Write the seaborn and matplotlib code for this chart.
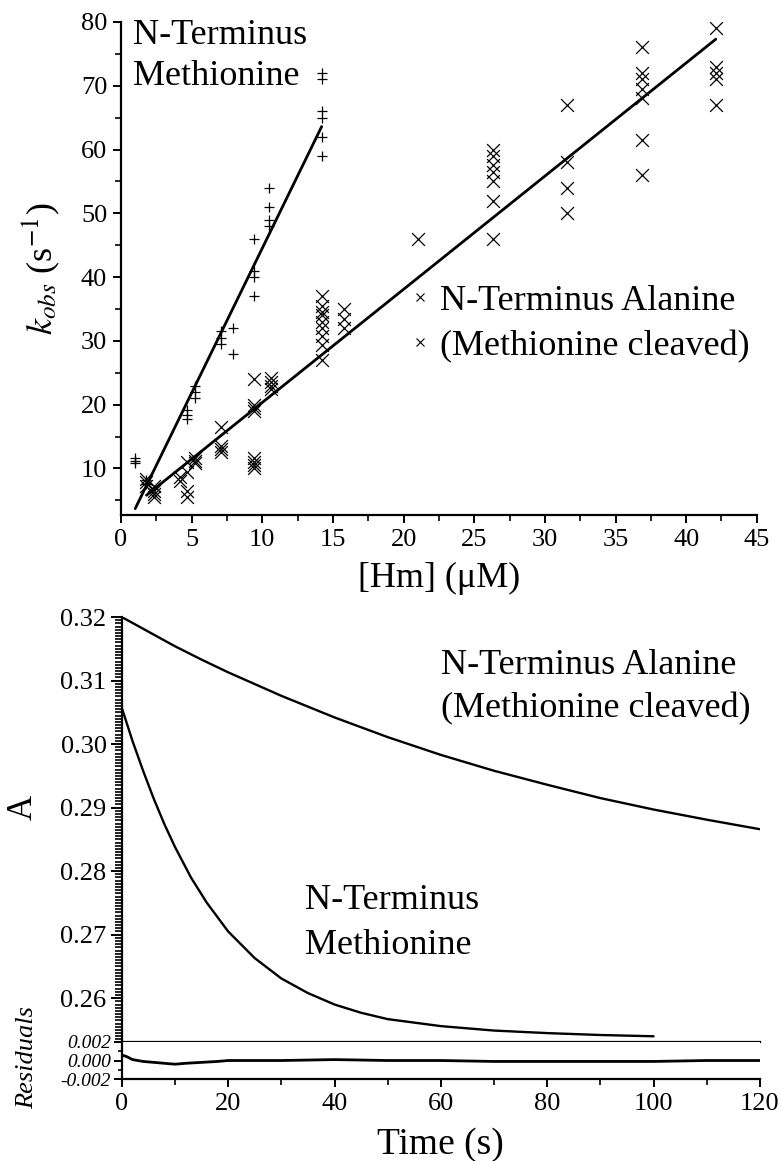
import matplotlib
matplotlib.use("Agg")
import matplotlib.pyplot as plt
from matplotlib.lines import Line2D
from matplotlib.ticker import MultipleLocator
import pandas as pd
import seaborn as sns

# ---- top panel: k_obs vs [Hm] ----
# N-terminus methionine (+ markers), grouped by [Hm]
met_hm_levels = [1.0, 1.8, 4.7, 5.2, 7.1, 7.9, 9.4, 10.5, 14.2]
met_kobs_groups = [
    [11.7, 11.2, 10.8],
    [8.2, 7.6],
    [19.2, 18.4, 17.8],
    [23.0, 22.0, 21.0],
    [31.5, 30.5, 29.5],
    [32.0, 28.0],
    [46.0, 41.0, 40.0, 37.0],
    [54.0, 51.0, 49.0, 48.0],
    [72.0, 71.0, 66.0, 65.0, 62.0, 59.0],
]
# N-terminus alanine (x markers)
ala_hm_levels = [1.8, 2.3, 4.2, 4.7, 5.2, 7.1, 9.4, 10.6, 14.2, 15.8, 21.0, 26.3, 31.6, 36.9, 42.1]
ala_kobs_groups = [
    [8.4, 7.8, 7.2],
    [7.2, 6.5, 6.0, 5.5],
    [8.6, 8.0],
    [11.0, 9.5, 6.5, 5.5],
    [11.6, 11.2, 10.8],
    [16.5, 13.5, 13.0, 12.6],
    [24.0, 20.0, 19.5, 19.0, 11.6, 11.0, 10.5, 10.0],
    [24.2, 23.5, 23.0, 22.5],
    [37.0, 35.5, 34.5, 34.0, 33.0, 32.0, 30.8, 29.4, 27.0],
    [35.0, 33.5, 32.0],
    [46.0],
    [60.0, 59.0, 57.5, 56.5, 55.0, 52.0, 46.0],
    [67.0, 58.0, 54.0, 50.0],
    [76.0, 72.0, 71.0, 69.5, 68.0, 61.5, 56.0],
    [79.0, 73.0, 72.0, 71.0, 67.0],
]
# linear fits (end points)
met_fit_hm = [1.0, 14.2]
met_fit_kobs = [3.7, 63.6]
ala_fit_hm = [1.8, 42.1]
ala_fit_kobs = [5.8, 77.3]

# ---- bottom panel: absorbance traces ----
ala_time = [0, 5, 10, 15, 20, 30, 40, 50, 60, 70, 80, 90, 100, 110, 120]
ala_abs = [0.3200, 0.3177, 0.3154, 0.3133, 0.3113, 0.3076, 0.3042, 0.3011,
           0.2983, 0.2958, 0.2936, 0.2915, 0.2897, 0.2881, 0.2866]
met_time = [0, 2, 4, 6, 8, 10, 13, 16, 20, 25, 30, 35, 40, 45, 50, 60, 70, 80, 90, 100]
met_abs = [0.3057, 0.3005, 0.2958, 0.2914, 0.2874, 0.2838, 0.2790, 0.2750, 0.2705,
           0.2663, 0.2631, 0.2608, 0.2590, 0.2577, 0.2567, 0.2556, 0.2549, 0.2545,
           0.2542, 0.2540]
res_time = [0, 1, 2, 4, 6, 8, 10, 12, 15, 18, 20, 30, 40, 50, 60, 70, 80, 90, 100, 110, 120]
res_val = [0.0006, 0.0004, 0.0001, -0.0001, -0.0002, -0.0003, -0.0004, -0.0003, -0.0002,
           -0.0001, 0.0, 0.0, 0.0001, 0.0, 0.0, -0.0001, -0.0001, -0.0001, -0.0001, 0.0, 0.0]


def expand(levels, groups):
    xs, ys = [], []
    for x, g in zip(levels, groups):
        xs += [x] * len(g)
        ys += g
    return pd.DataFrame({"hm": xs, "kobs": ys})


met_df = expand(met_hm_levels, met_kobs_groups)
ala_df = expand(ala_hm_levels, ala_kobs_groups)

sns.set_theme(style="ticks")
plt.rcParams["font.family"] = ["Liberation Serif", "DejaVu Serif"]
plt.rcParams["mathtext.fontset"] = "stix"
plt.rcParams["axes.linewidth"] = 1.6
plt.rcParams["xtick.major.width"] = 1.4
plt.rcParams["ytick.major.width"] = 1.4
plt.rcParams["xtick.minor.width"] = 1.2
plt.rcParams["ytick.minor.width"] = 1.2
for key in ["xtick.color", "ytick.color", "axes.edgecolor", "text.color",
            "axes.labelcolor", "xtick.labelcolor", "ytick.labelcolor"]:
    plt.rcParams[key] = "black"

fig = plt.figure(figsize=(7.81, 11.61), dpi=100)
ax1 = fig.add_axes([0.155, 0.5564, 0.814, 0.4247])
ax2 = fig.add_axes([0.156, 0.1025, 0.817, 0.366])
ax3 = fig.add_axes([0.156, 0.0706, 0.817, 0.0319], sharex=ax2)

# ---- top panel ----
sns.scatterplot(data=met_df, x="hm", y="kobs", marker="+", s=55, color="black",
                linewidth=0.9, ax=ax1, legend=False)
sns.scatterplot(data=ala_df, x="hm", y="kobs", marker="x", s=85, color="black",
                linewidth=0.9, ax=ax1, legend=False)
sns.lineplot(x=met_fit_hm, y=met_fit_kobs, color="black", lw=2.0, ax=ax1)
sns.lineplot(x=ala_fit_hm, y=ala_fit_kobs, color="black", lw=2.0, ax=ax1)

ax1.set_xlim(0, 45)
ax1.set_ylim(2.7, 80)
ax1.xaxis.set_major_locator(MultipleLocator(5))
ax1.xaxis.set_minor_locator(MultipleLocator(2.5))
ax1.yaxis.set_minor_locator(MultipleLocator(5))
ax1.set_yticks([10, 20, 30, 40, 50, 60, 70, 80])
ax1.tick_params(which="major", length=6, labelsize=19, pad=4)
ax1.tick_params(which="minor", length=4)
sns.despine(ax=ax1)
ax1.set_xlabel("[Hm] (\u03bcM)", fontsize=26)
ax1.xaxis.set_label_coords(0.5, -0.095)
ax1.set_ylabel(r"$k_{obs}$ (s$^{\mathrm{-1}}$)", fontsize=26)
ax1.yaxis.set_label_coords(-0.093, 0.5)

ax1.text(0.019, 1.005, "N-Terminus\nMethionine", transform=ax1.transAxes,
         fontsize=26, va="top", ha="left", linespacing=1.3)
handles = [Line2D([], [], marker="x", ls="none", color="black", markersize=6, mew=0.8),
           Line2D([], [], marker="x", ls="none", color="black", markersize=6, mew=0.8)]
ax1.legend(handles, ["N-Terminus Alanine", "(Methionine cleaved)"], loc="upper left",
           bbox_to_anchor=(0.453, 0.468), frameon=False, fontsize=26, borderpad=0,
           borderaxespad=0, handlelength=0.6, handletextpad=0.25, labelspacing=0.34)

# ---- bottom panel ----
sns.lineplot(x=ala_time, y=ala_abs, color="black", lw=1.7, ax=ax2)
sns.lineplot(x=met_time, y=met_abs, color="black", lw=1.7, ax=ax2)
ax2.set_xlim(0, 120)
ax2.set_ylim(0.2531, 0.32)
ax2.set_yticks([0.26, 0.27, 0.28, 0.29, 0.30, 0.31, 0.32])
ax2.yaxis.set_minor_locator(MultipleLocator(0.0005))
ax2.tick_params(axis="y", which="major", length=8, labelsize=19, pad=3)
ax2.tick_params(axis="y", which="minor", length=5, width=1.2)
ax2.tick_params(axis="x", which="both", bottom=False, labelbottom=False)
ax2.spines["top"].set_visible(False)
ax2.spines["right"].set_visible(False)
ax2.set_ylabel("A", fontsize=25)
ax2.yaxis.set_label_coords(-0.1285, 0.553)
ax2.text(60, 0.3124, "N-Terminus Alanine", fontsize=26, va="center", ha="left")
ax2.text(60, 0.3056, "(Methionine cleaved)", fontsize=26, va="center", ha="left")
ax2.text(34.4, 0.2754, "N-Terminus", fontsize=26, va="center", ha="left")
ax2.text(34.4, 0.2683, "Methionine", fontsize=26, va="center", ha="left")

# ---- residuals ----
sns.lineplot(x=res_time, y=res_val, color="black", lw=2.0, ax=ax3)
ax3.set_ylim(-0.002, 0.002)
ax3.set_yticks([-0.002, 0.0, 0.002], labels=["-0.002", "0.000", "0.002"])
ax3.yaxis.set_minor_locator(MultipleLocator(0.001))
ax3.xaxis.set_major_locator(MultipleLocator(20))
ax3.xaxis.set_minor_locator(MultipleLocator(10))
ax3.tick_params(axis="y", which="major", length=6, labelsize=14, pad=2)
ax3.tick_params(axis="y", which="minor", length=3)
ax3.tick_params(axis="x", which="major", length=6, labelsize=19, pad=4)
ax3.tick_params(axis="x", which="minor", length=4)
for lbl in ax3.get_yticklabels():
    lbl.set_fontstyle("italic")
ax3.spines["top"].set_visible(False)
ax3.spines["right"].set_visible(False)
ax3.set_ylabel("Residuals", fontsize=19, fontstyle="italic")
ax3.yaxis.set_label_coords(-0.1317, 0.57)
ax3.set_xlabel("Time (s)", fontsize=27)
ax3.xaxis.set_label_coords(0.5, -1.3)

fig.savefig("out.png", dpi=100, facecolor="white")
